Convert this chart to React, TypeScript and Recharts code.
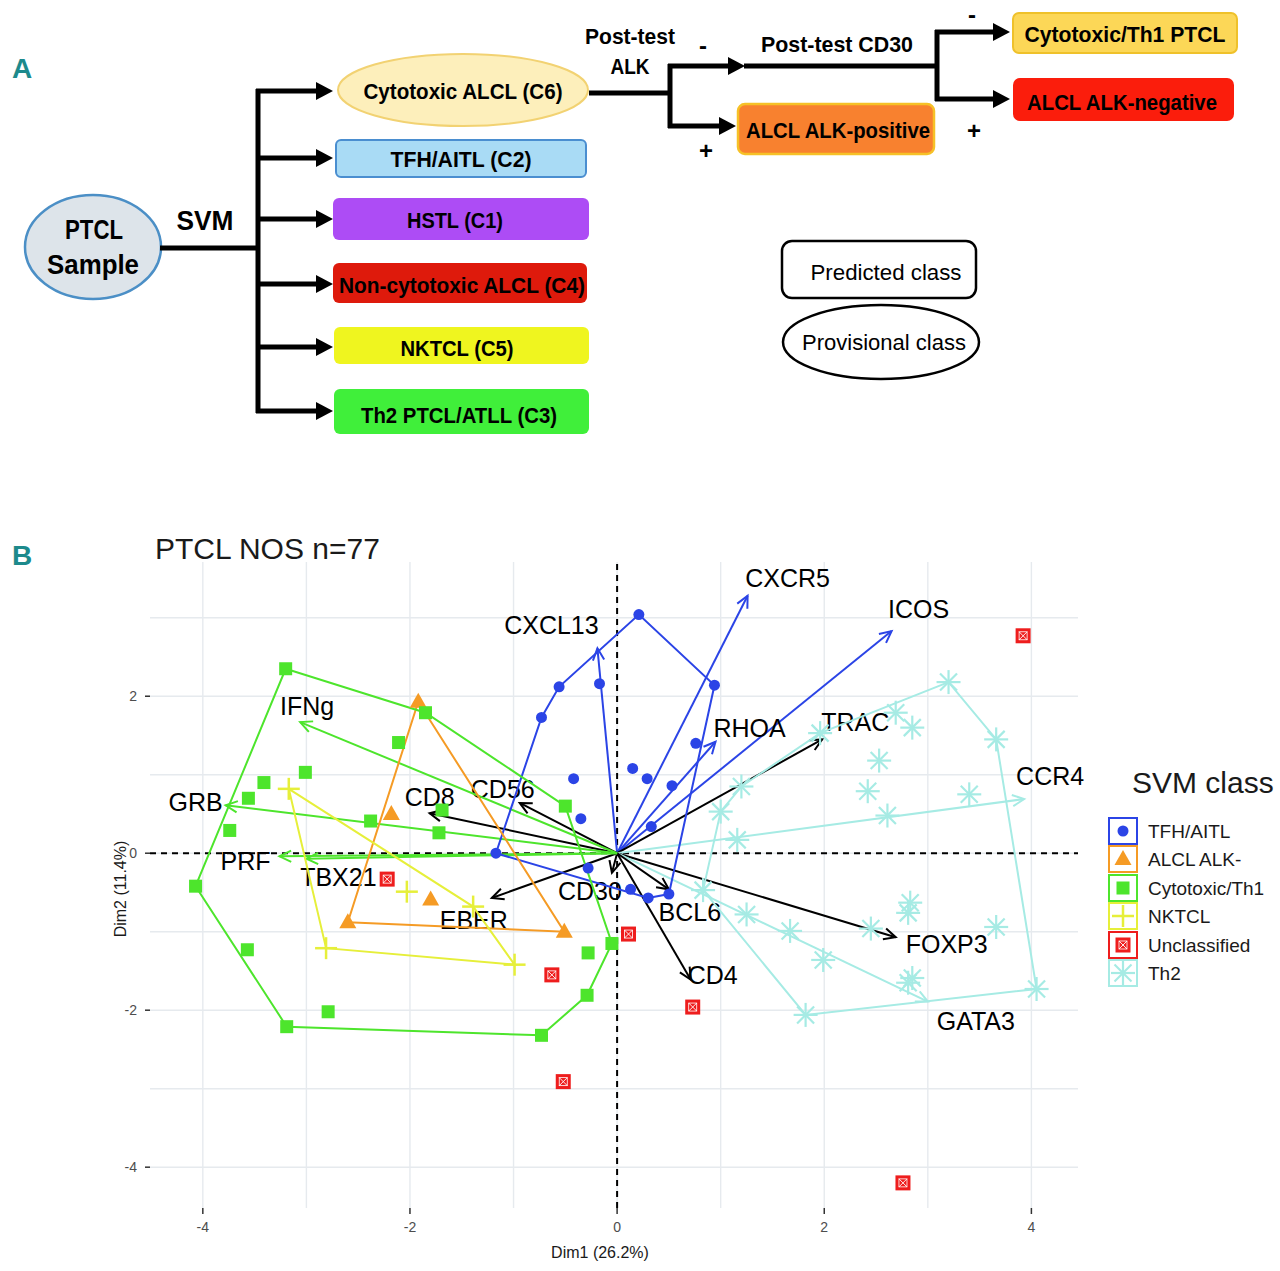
import React from 'react';
import { ScatterChart, Scatter, XAxis, YAxis, ReferenceLine } from 'recharts';

type Pt = { x: number; y: number };

// individuals (Dim1, Dim2)
const tfhAitl: Pt[] = [
  { x: 0.21, y: 3.04 }, { x: -0.56, y: 2.12 }, { x: -0.73, y: 1.73 }, { x: -0.17, y: 2.16 },
  { x: 0.94, y: 2.14 }, { x: 0.76, y: 1.4 }, { x: 0.15, y: 1.08 }, { x: 0.29, y: 0.95 },
  { x: 0.53, y: 0.86 }, { x: -0.42, y: 0.95 }, { x: -0.35, y: 0.44 }, { x: 0.33, y: 0.34 },
  { x: -1.17, y: 0.0 }, { x: -0.28, y: -0.19 }, { x: 0.13, y: -0.46 }, { x: 0.3, y: -0.57 },
  { x: 0.5, y: -0.52 },
];
const alclAlkNeg: Pt[] = [
  { x: -1.92, y: 1.93 }, { x: -2.18, y: 0.5 }, { x: -1.8, y: -0.59 }, { x: -2.6, y: -0.88 },
  { x: -0.51, y: -1.0 },
];
const cytotoxicTh1: Pt[] = [
  { x: -3.2, y: 2.35 }, { x: -1.85, y: 1.79 }, { x: -2.11, y: 1.41 }, { x: -3.01, y: 1.03 },
  { x: -3.41, y: 0.9 }, { x: -3.56, y: 0.7 }, { x: -2.38, y: 0.41 }, { x: -1.72, y: 0.26 },
  { x: -1.69, y: 0.55 }, { x: -3.74, y: 0.29 }, { x: -4.07, y: -0.42 }, { x: -0.5, y: 0.6 },
  { x: -3.57, y: -1.23 }, { x: -3.19, y: -2.21 }, { x: -2.79, y: -2.02 }, { x: -0.05, y: -1.15 },
  { x: -0.28, y: -1.27 }, { x: -0.29, y: -1.81 }, { x: -0.73, y: -2.32 },
];
const nktcl: Pt[] = [
  { x: -3.17, y: 0.82 }, { x: -2.03, y: -0.49 }, { x: -1.39, y: -0.68 }, { x: -2.81, y: -1.21 },
  { x: -0.99, y: -1.42 },
];
const unclassified: Pt[] = [
  { x: -2.22, y: -0.33 }, { x: 0.11, y: -1.03 }, { x: -0.63, y: -1.55 }, { x: 0.73, y: -1.96 },
  { x: -0.52, y: -2.91 }, { x: 3.92, y: 2.77 }, { x: 2.76, y: -4.2 },
];
const th2: Pt[] = [
  { x: 1.2, y: 0.85 }, { x: 1.0, y: 0.53 }, { x: 1.16, y: 0.17 }, { x: 0.83, y: -0.47 },
  { x: 1.25, y: -0.78 }, { x: 3.2, y: 2.18 }, { x: 2.69, y: 1.79 }, { x: 2.85, y: 1.6 },
  { x: 3.66, y: 1.45 }, { x: 1.96, y: 1.53 }, { x: 2.53, y: 1.18 }, { x: 2.42, y: 0.79 },
  { x: 3.4, y: 0.75 }, { x: 2.61, y: 0.48 }, { x: 2.83, y: -0.63 }, { x: 2.81, y: -0.76 },
  { x: 3.66, y: -0.94 }, { x: 2.45, y: -0.96 }, { x: 1.67, y: -0.99 }, { x: 1.99, y: -1.36 },
  { x: 2.85, y: -1.59 }, { x: 2.81, y: -1.65 }, { x: 4.05, y: -1.73 }, { x: 1.82, y: -2.06 },
];

// variables (arrow tips)
const varNames = ['CXCR5', 'ICOS', 'CXCL13', 'RHOA', 'TRAC', 'CCR4', 'FOXP3', 'GATA3', 'CD4',
  'BCL6', 'CD30', 'EBER', 'CD56', 'CD8', 'IFNg', 'GRB', 'PRF', 'TBX21'];
const varDim1 = [1.26, 2.65, -0.19, 0.95, 1.98, 3.93, 2.69, 3.0, 0.71, 0.5, -0.05, -1.21, -0.94,
  -1.81, -3.06, -3.78, -3.26, -3.0];
const varDim2 = [3.28, 2.83, 2.61, 1.42, 1.45, 0.69, -1.07, -1.89, -1.61, -0.46, -0.25, -0.57,
  0.64, 0.51, 1.67, 0.61, -0.04, -0.07];
const varGroup = ['tfh', 'tfh', 'tfh', 'tfh', 'none', 'th2', 'none', 'th2', 'none', 'none', 'none',
  'none', 'none', 'none', 'cyto', 'cyto', 'cyto', 'cyto'];

const gridX = [-4, -3, -2, -1, 0, 1, 2, 3, 4];
const gridY = [-4, -3, -2, -1, 0, 1, 2, 3];
const xTicks = [-4, -2, 0, 2, 4];
const yTicks = [-4, -2, 0, 2];

const C = {
  blue: '#2b44e6',
  orange: '#f59b25',
  green: '#4de52c',
  yellow: '#e6ef3a',
  red: '#ee1d1d',
  cyan: '#a6ebe4',
};
const arrowColor: Record<string, string> = { tfh: C.blue, th2: C.cyan, cyto: C.green, none: '#000' };

// label nudges in px relative to the arrow tip
const labelNudge: Record<string, [number, number]> = {
  CXCR5: [40, -18], ICOS: [27, -22], CXCL13: [-46, -23], RHOA: [34, -14], TRAC: [33, -17],
  CCR4: [26, -23], FOXP3: [51, 7], GATA3: [48, 19], CD4: [22, -5], BCL6: [21, 23],
  CD30: [-22, 18], EBER: [-18, 22], CD56: [-17, -14], CD8: [0, -16], IFNg: [7, -16],
  GRB: [-30, -3], PRF: [-34, 5], TBX21: [32, 18],
};

const SANS = "'Liberation Sans', Arial, Helvetica, sans-serif";
const NARROW = "'Liberation Sans Narrow', 'Liberation Sans', Arial, sans-serif";

function convexHull(pts: Pt[]): Pt[] {
  const s = [...pts].sort((a, b) => a.x - b.x || a.y - b.y);
  const cross = (o: Pt, a: Pt, b: Pt) => (a.x - o.x) * (b.y - o.y) - (a.y - o.y) * (b.x - o.x);
  const lower: Pt[] = [];
  for (const p of s) {
    while (lower.length >= 2 && cross(lower[lower.length - 2], lower[lower.length - 1], p) <= 0) lower.pop();
    lower.push(p);
  }
  const upper: Pt[] = [];
  for (const p of [...s].reverse()) {
    while (upper.length >= 2 && cross(upper[upper.length - 2], upper[upper.length - 1], p) <= 0) upper.pop();
    upper.push(p);
  }
  lower.pop();
  upper.pop();
  const h = lower.concat(upper);
  return [...h, h[0]];
}

// point symbols
const dot = (cx: number, cy: number) => <circle cx={cx} cy={cy} r={5.5} fill={C.blue} />;
const tri = (cx: number, cy: number) => (
  <polygon points={`${cx},${cy - 9} ${cx - 8.5},${cy + 6} ${cx + 8.5},${cy + 6}`} fill={C.orange} />
);
const sq = (cx: number, cy: number) => <rect x={cx - 6.5} y={cy - 6.5} width={13} height={13} fill={C.green} />;
const plus = (cx: number, cy: number) => (
  <g stroke={C.yellow} strokeWidth={2.5}>
    <line x1={cx - 11} y1={cy} x2={cx + 11} y2={cy} />
    <line x1={cx} y1={cy - 11} x2={cx} y2={cy + 11} />
  </g>
);
const boxX = (cx: number, cy: number) => (
  <g>
    <rect x={cx - 7.5} y={cy - 7.5} width={15} height={15} fill={C.red} />
    <rect x={cx - 4} y={cy - 4} width={8} height={8} fill="none" stroke="#fff" strokeWidth={0.8} />
    <line x1={cx - 4} y1={cy - 4} x2={cx + 4} y2={cy + 4} stroke="#fff" strokeWidth={0.9} />
    <line x1={cx + 4} y1={cy - 4} x2={cx - 4} y2={cy + 4} stroke="#fff" strokeWidth={0.9} />
  </g>
);
const star = (cx: number, cy: number) => (
  <g stroke={C.cyan} strokeWidth={2.2}>
    <line x1={cx - 12} y1={cy} x2={cx + 12} y2={cy} />
    <line x1={cx} y1={cy - 12} x2={cx} y2={cy + 12} />
    <line x1={cx - 8.5} y1={cy - 8.5} x2={cx + 8.5} y2={cy + 8.5} />
    <line x1={cx + 8.5} y1={cy - 8.5} x2={cx - 8.5} y2={cy + 8.5} />
  </g>
);

const groups = [
  { name: 'TFH/AITL', data: tfhAitl, color: C.blue, sym: dot, hull: true },
  { name: 'ALCL ALK-', data: alclAlkNeg, color: C.orange, sym: tri, hull: true },
  { name: 'Cytotoxic/Th1', data: cytotoxicTh1, color: C.green, sym: sq, hull: true },
  { name: 'NKTCL', data: nktcl, color: C.yellow, sym: plus, hull: true },
  { name: 'Unclassified', data: unclassified, color: C.red, sym: boxX, hull: false },
  { name: 'Th2', data: th2, color: C.cyan, sym: star, hull: true },
];

const arrowShape = (color: string, label: string) => (p: any) => {
  const { x1, y1, x2, y2 } = p;
  const a = Math.atan2(y2 - y1, x2 - x1);
  const L = 13;
  const w = 0.45;
  const hx1 = x2 - L * Math.cos(a - w);
  const hy1 = y2 - L * Math.sin(a - w);
  const hx2 = x2 - L * Math.cos(a + w);
  const hy2 = y2 - L * Math.sin(a + w);
  const [dx, dy] = labelNudge[label] || [0, 0];
  return (
    <g>
      <line x1={x1} y1={y1} x2={x2} y2={y2} stroke={color} strokeWidth={2} />
      <polyline points={`${hx1},${hy1} ${x2},${y2} ${hx2},${hy2}`} fill="none" stroke={color} strokeWidth={2} />
      <text x={x2 + dx} y={y2 + dy} textAnchor="middle" dominantBaseline="central" fontSize={25}
        fontFamily={SANS} fill="#000">{label}</text>
    </g>
  );
};

function Arrow({ x1, y1, x2, y2 }: { x1: number; y1: number; x2: number; y2: number }) {
  const a = Math.atan2(y2 - y1, x2 - x1);
  const L = 17;
  const w = 9;
  const bx = x2 - L * Math.cos(a);
  const by = y2 - L * Math.sin(a);
  const nx = -Math.sin(a) * w;
  const ny = Math.cos(a) * w;
  return (
    <g>
      <line x1={x1} y1={y1} x2={bx + 1} y2={by} stroke="#000" strokeWidth={5} />
      <polygon points={`${x2},${y2} ${bx + nx},${by + ny} ${bx - nx},${by - ny}`} fill="#000" />
    </g>
  );
}

function BoxLabel({ x, y, text, w, size = 22, weight = 'bold' }: any) {
  return (
    <text x={x} y={y} textAnchor="middle" dominantBaseline="central" fontSize={size} fontWeight={weight}
      fontFamily={NARROW} textLength={w} lengthAdjust="spacingAndGlyphs" fill="#000">{text}</text>
  );
}

function PanelA() {
  const rows = [91, 158, 219, 284, 347, 411];
  return (
    <g>
      <text x={22} y={68} textAnchor="middle" dominantBaseline="central" fontSize={28} fontWeight="bold"
        fontFamily={NARROW} fill="#1d8a8c">A</text>
      <ellipse cx={93} cy={247} rx={68} ry={52} fill="#dde4ea" stroke="#4b8fc6" strokeWidth={2.5} />
      <BoxLabel x={94} y={230} text="PTCL" w={58} size={27} />
      <BoxLabel x={93} y={265} text="Sample" w={92} size={27} />
      <line x1={160} y1={248} x2={260} y2={248} stroke="#000" strokeWidth={5} />
      <BoxLabel x={205} y={221} text="SVM" w={57} size={27} />
      <line x1={258} y1={89} x2={258} y2={413} stroke="#000" strokeWidth={5} />
      {rows.map((r) => <Arrow key={r} x1={256} y1={r} x2={333} y2={r} />)}

      <ellipse cx={463} cy={90} rx={125} ry={36} fill="#fdefbb" stroke="#f2d272" strokeWidth={2} />
      <BoxLabel x={463} y={91} text="Cytotoxic ALCL (C6)" w={199} />
      <rect x={336} y={140} width={250} height={37} rx={5} fill="#a9dbf5" stroke="#4a8ed0" strokeWidth={2} />
      <BoxLabel x={461} y={159} text="TFH/AITL (C2)" w={141} />
      <rect x={333} y={198} width={256} height={42} rx={6} fill="#ad4cf5" />
      <BoxLabel x={455} y={220} text="HSTL (C1)" w={96} />
      <rect x={333} y={263} width={254} height={40} rx={6} fill="#de1a0c" />
      <BoxLabel x={462} y={285} text="Non-cytotoxic ALCL (C4)" w={246} />
      <rect x={334} y={327} width={255} height={37} rx={6} fill="#eff51f" />
      <BoxLabel x={457} y={348} text="NKTCL (C5)" w={113} />
      <rect x={334} y={389} width={255} height={45} rx={6} fill="#40ef3a" />
      <BoxLabel x={459} y={415} text="Th2 PTCL/ATLL (C3)" w={196} />

      <line x1={589} y1={93} x2={672} y2={93} stroke="#000" strokeWidth={5} />
      <BoxLabel x={630} y={36} text="Post-test" w={90} size={22} />
      <BoxLabel x={630} y={66} text="ALK" w={39} size={22} />
      <line x1={670} y1={64} x2={670} y2={128} stroke="#000" strokeWidth={5} />
      <Arrow x1={668} y1={66} x2={745} y2={66} />
      <line x1={744} y1={66} x2={939} y2={66} stroke="#000" strokeWidth={5} />
      <Arrow x1={668} y1={126} x2={736} y2={126} />
      <text x={703} y={45} textAnchor="middle" dominantBaseline="central" fontSize={24} fontWeight="bold" fontFamily={NARROW}>-</text>
      <text x={706} y={150} textAnchor="middle" dominantBaseline="central" fontSize={24} fontWeight="bold" fontFamily={NARROW}>+</text>
      <rect x={738} y={104} width={196} height={50} rx={7} fill="#f8812f" stroke="#f6c127" strokeWidth={2.5} />
      <BoxLabel x={838} y={130} text="ALCL ALK-positive" w={184} />
      <BoxLabel x={837} y={44} text="Post-test CD30" w={152} size={22} />
      <line x1={937} y1={30} x2={937} y2={101} stroke="#000" strokeWidth={5} />
      <Arrow x1={935} y1={32} x2={1010} y2={32} />
      <Arrow x1={935} y1={99} x2={1010} y2={99} />
      <text x={972} y={14} textAnchor="middle" dominantBaseline="central" fontSize={24} fontWeight="bold" fontFamily={NARROW}>-</text>
      <text x={974} y={130} textAnchor="middle" dominantBaseline="central" fontSize={24} fontWeight="bold" fontFamily={NARROW}>+</text>
      <rect x={1013} y={13} width={224} height={40} rx={6} fill="#fcd757" stroke="#efc12a" strokeWidth={2} />
      <BoxLabel x={1125} y={34} text="Cytotoxic/Th1 PTCL" w={201} />
      <rect x={1013} y={78} width={221} height={43} rx={7} fill="#fb1d0c" />
      <BoxLabel x={1122} y={102} text="ALCL ALK-negative" w={190} />

      <rect x={782} y={241} width={194} height={57} rx={10} fill="#fff" stroke="#000" strokeWidth={2.5} />
      <BoxLabel x={886} y={272} text="Predicted class" w={151} weight="normal" />
      <ellipse cx={881} cy={342} rx={98} ry={37} fill="#fff" stroke="#000" strokeWidth={2.5} />
      <BoxLabel x={884} y={342} text="Provisional class" w={164} weight="normal" />
    </g>
  );
}

function Overlay() {
  const keyRows = [831, 859, 888, 916, 945, 973];
  return (
    <svg width={1280} height={1271} style={{ position: 'absolute', left: 0, top: 0, pointerEvents: 'none' }}>
      <PanelA />
      <text x={22} y={555} textAnchor="middle" dominantBaseline="central" fontSize={28} fontWeight="bold"
        fontFamily={NARROW} fill="#1d8a8c">B</text>
      <text x={155} y={559} fontSize={30} fontFamily={SANS} fill="#1a1a1a">PTCL NOS n=77</text>
      <text x={600} y={1258} textAnchor="middle" fontSize={16} fontFamily={SANS} fill="#1a1a1a">Dim1 (26.2%)</text>
      <text x={0} y={0} transform="translate(126,889) rotate(-90)" textAnchor="middle" fontSize={16}
        fontFamily={SANS} fill="#1a1a1a">Dim2 (11.4%)</text>
      <text x={1132} y={782} dominantBaseline="central" fontSize={30} fontFamily={SANS} fill="#1a1a1a">SVM class</text>
      {groups.map((g, i) => {
        const cy = keyRows[i];
        return (
          <g key={g.name}>
            <rect x={1109} y={cy - 13} width={28} height={26} fill="#fff" stroke={g.color} strokeWidth={2} />
            {g.sym(1123, cy)}
            <text x={1148} y={cy} dominantBaseline="central" fontSize={19} fontFamily={SANS} fill="#1a1a1a">{g.name}</text>
          </g>
        );
      })}
    </svg>
  );
}

export default function App() {
  return (
    <div style={{ position: 'absolute', left: 0, top: 0, width: 1280, height: 1271, background: '#fff' }}>
      <div style={{ position: 'absolute', left: 0, top: 470 }}>
        <ScatterChart width={1280} height={801} margin={{ top: 92, right: 202, bottom: 33, left: 120 }}>
          <XAxis type="number" dataKey="x" domain={[-4.51, 4.45]} ticks={xTicks} allowDataOverflow
            axisLine={false} tickLine={{ stroke: '#333', strokeWidth: 1.5 }} tickSize={6} tickMargin={8} height={30}
            tick={{ fontSize: 14, fill: '#4d4d4d', fontFamily: SANS }} />
          <YAxis type="number" dataKey="y" domain={[-4.52, 3.71]} ticks={yTicks} allowDataOverflow
            axisLine={false} tickLine={{ stroke: '#333', strokeWidth: 1.5 }} tickSize={5} tickMargin={8} width={30}
            tick={{ fontSize: 14, fill: '#4d4d4d', fontFamily: SANS }} />
          {gridX.map((v) => (
            <ReferenceLine key={'gx' + v} x={v} stroke="#e6eaee" strokeWidth={1.4} />
          ))}
          {gridY.map((v) => (
            <ReferenceLine key={'gy' + v} y={v} stroke="#e6eaee" strokeWidth={1.4} />
          ))}
          <ReferenceLine x={0} stroke="#000" strokeWidth={2} strokeDasharray="6 5" />
          <ReferenceLine y={0} stroke="#000" strokeWidth={2} strokeDasharray="6 5" />
          {groups.filter((g) => g.hull).map((g) => (
            <Scatter key={'h' + g.name} data={convexHull(g.data)} line={{ stroke: g.color, strokeWidth: 2 }}
              shape={() => <g />} isAnimationActive={false} />
          ))}
          {groups.map((g) => (
            <Scatter key={g.name} name={g.name} data={g.data} shape={(p: any) => g.sym(p.cx, p.cy)}
              isAnimationActive={false} />
          ))}
          {varNames.map((n, i) => (
            <ReferenceLine key={n} segment={[{ x: 0, y: 0 }, { x: varDim1[i], y: varDim2[i] }]}
              shape={arrowShape(arrowColor[varGroup[i]], n)} />
          ))}
        </ScatterChart>
      </div>
      <Overlay />
    </div>
  );
}
